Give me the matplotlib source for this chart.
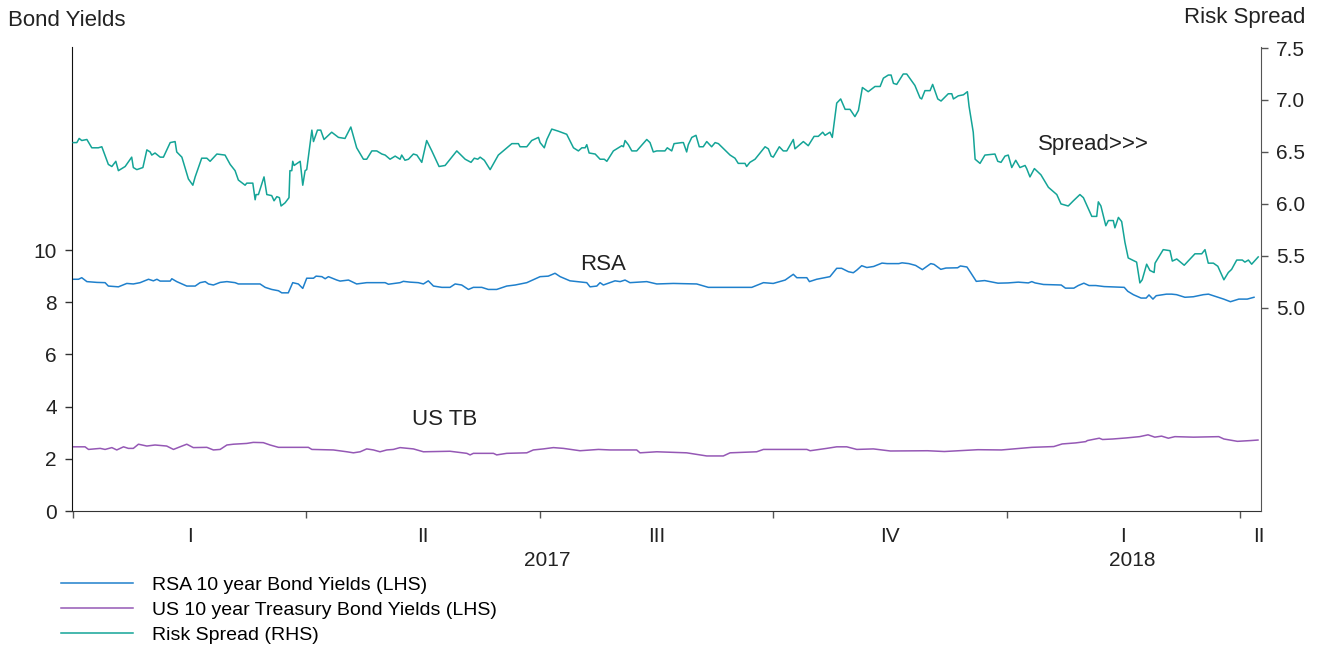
import matplotlib
matplotlib.use("Agg")
import matplotlib.pyplot as plt
import matplotlib.transforms as mtransforms
import numpy as np

plt.rcParams['font.family'] = ['Liberation Sans', 'DejaVu Sans']

# x positions are in quarters from 1 Jan 2017 (0 = start of 2017 Q1)
rsa_q = [0.0, 0.023, 0.037, 0.059, 0.102, 0.137, 0.151, 0.194, 0.230, 0.258, 0.287, 0.323,
         0.344, 0.359, 0.373, 0.416, 0.423, 0.444, 0.487, 0.523, 0.544, 0.566, 0.580, 0.601,
         0.630, 0.659, 0.694, 0.708, 0.801, 0.823, 0.851, 0.880, 0.894, 0.922, 0.941, 0.965,
         0.984, 1.001, 1.030, 1.041, 1.066, 1.080, 1.094, 1.130, 1.144, 1.180, 1.215, 1.258,
         1.337, 1.351, 1.401, 1.415, 1.444, 1.479, 1.501, 1.522, 1.544, 1.580, 1.615, 1.637,
         1.665, 1.694, 1.715, 1.751, 1.779, 1.815, 1.858, 1.894, 1.944, 2.001, 2.036, 2.065,
         2.087, 2.129, 2.201, 2.215, 2.244, 2.258, 2.272, 2.322, 2.344, 2.365, 2.386, 2.458,
         2.501, 2.572, 2.672, 2.722, 2.908, 2.958, 3.000, 3.051, 3.086, 3.101, 3.144, 3.155,
         3.186, 3.243, 3.272, 3.293, 3.322, 3.343, 3.358, 3.379, 3.401, 3.430, 3.466, 3.488,
         3.538, 3.552, 3.581, 3.610, 3.639, 3.675, 3.689, 3.718, 3.740, 3.790, 3.802, 3.830,
         3.847, 3.870, 3.906, 3.963, 4.006, 4.050, 4.093, 4.108, 4.122, 4.158, 4.234, 4.252,
         4.288, 4.307, 4.331, 4.353, 4.382, 4.418, 4.504, 4.519, 4.543, 4.576, 4.598, 4.610,
         4.627, 4.641, 4.685, 4.707, 4.728, 4.764, 4.800, 4.843, 4.865, 4.886, 4.930, 4.959,
         4.973, 4.995, 5.031, 5.060]
rsa = [8.88, 8.88, 8.94, 8.79, 8.76, 8.75, 8.62, 8.59, 8.72, 8.70, 8.75, 8.88,
       8.82, 8.88, 8.81, 8.81, 8.90, 8.79, 8.62, 8.62, 8.75, 8.79, 8.70, 8.66,
       8.76, 8.79, 8.75, 8.70, 8.70, 8.57, 8.49, 8.44, 8.36, 8.36, 8.75, 8.70,
       8.53, 8.92, 8.92, 9.00, 8.98, 8.90, 8.98, 8.85, 8.81, 8.85, 8.70, 8.75,
       8.75, 8.69, 8.75, 8.80, 8.77, 8.75, 8.70, 8.82, 8.62, 8.57, 8.57, 8.70,
       8.66, 8.49, 8.57, 8.57, 8.49, 8.49, 8.62, 8.66, 8.75, 8.98, 9.00, 9.11,
       8.98, 8.82, 8.75, 8.59, 8.62, 8.75, 8.66, 8.82, 8.79, 8.85, 8.75, 8.79,
       8.70, 8.72, 8.70, 8.57, 8.57, 8.75, 8.72, 8.85, 9.07, 8.94, 8.94, 8.79,
       8.88, 8.98, 9.30, 9.30, 9.17, 9.13, 9.23, 9.40, 9.33, 9.37, 9.50, 9.48,
       9.48, 9.51, 9.48, 9.41, 9.25, 9.48, 9.45, 9.26, 9.31, 9.32, 9.39, 9.35,
       9.12, 8.80, 8.83, 8.73, 8.74, 8.77, 8.74, 8.79, 8.74, 8.68, 8.66, 8.54,
       8.54, 8.64, 8.73, 8.64, 8.64, 8.60, 8.57, 8.42, 8.29, 8.16, 8.16, 8.28,
       8.12, 8.25, 8.31, 8.31, 8.29, 8.19, 8.21, 8.29, 8.31, 8.25, 8.12, 8.02,
       8.06, 8.12, 8.12, 8.19]

us_q = [0.0, 0.051, 0.066, 0.116, 0.137, 0.166, 0.187, 0.216, 0.237, 0.258, 0.280, 0.316,
        0.351, 0.401, 0.430, 0.458, 0.487, 0.515, 0.573, 0.601, 0.630, 0.659, 0.687, 0.744,
        0.772, 0.815, 0.844, 0.880, 1.008, 1.023, 1.115, 1.173, 1.201, 1.230, 1.258, 1.287,
        1.315, 1.344, 1.372, 1.401, 1.458, 1.501, 1.615, 1.687, 1.701, 1.715, 1.801, 1.815,
        1.858, 1.944, 1.972, 2.015, 2.058, 2.101, 2.172, 2.251, 2.301, 2.415, 2.429, 2.501,
        2.629, 2.715, 2.786, 2.815, 2.929, 2.958, 3.144, 3.158, 3.229, 3.272, 3.315, 3.358,
        3.429, 3.502, 3.661, 3.733, 3.877, 3.978, 4.108, 4.202, 4.238, 4.296, 4.339, 4.346,
        4.397, 4.411, 4.455, 4.512, 4.570, 4.606, 4.635, 4.664, 4.693, 4.721, 4.801, 4.909,
        4.931, 4.989, 5.046, 5.077]
us = [2.46, 2.46, 2.36, 2.40, 2.36, 2.43, 2.34, 2.46, 2.40, 2.40, 2.56, 2.49,
      2.53, 2.49, 2.36, 2.46, 2.56, 2.43, 2.44, 2.34, 2.36, 2.53, 2.56, 2.59,
      2.63, 2.62, 2.53, 2.44, 2.44, 2.36, 2.34, 2.27, 2.23, 2.27, 2.38, 2.34,
      2.27, 2.34, 2.36, 2.43, 2.38, 2.27, 2.29, 2.21, 2.15, 2.21, 2.21, 2.15,
      2.21, 2.23, 2.34, 2.38, 2.43, 2.40, 2.31, 2.36, 2.34, 2.34, 2.23, 2.27,
      2.23, 2.11, 2.11, 2.23, 2.27, 2.36, 2.36, 2.31, 2.40, 2.46, 2.46, 2.36,
      2.38, 2.30, 2.31, 2.28, 2.35, 2.34, 2.44, 2.47, 2.57, 2.61, 2.66, 2.70,
      2.79, 2.74, 2.76, 2.80, 2.85, 2.92, 2.83, 2.87, 2.79, 2.85, 2.83, 2.85,
      2.76, 2.67, 2.70, 2.72]

spr_q = [0.0, 0.016, 0.026, 0.037, 0.059, 0.080, 0.108, 0.123, 0.151, 0.166, 0.183, 0.194,
         0.223, 0.251, 0.258, 0.273, 0.299, 0.316, 0.330, 0.337, 0.351, 0.373, 0.387, 0.416,
         0.437, 0.444, 0.466, 0.494, 0.513, 0.523, 0.551, 0.573, 0.587, 0.616, 0.651, 0.673,
         0.694, 0.708, 0.737, 0.744, 0.770, 0.780, 0.784, 0.794, 0.818, 0.830, 0.851, 0.861,
         0.873, 0.884, 0.891, 0.908, 0.925, 0.929, 0.937, 0.941, 0.947, 0.973, 0.984, 0.994,
         1.001, 1.023, 1.030, 1.047, 1.061, 1.075, 1.108, 1.137, 1.165, 1.190, 1.215, 1.244,
         1.258, 1.280, 1.301, 1.323, 1.337, 1.358, 1.380, 1.401, 1.408, 1.422, 1.437, 1.458,
         1.473, 1.494, 1.515, 1.537, 1.558, 1.568, 1.594, 1.644, 1.680, 1.705, 1.719, 1.734,
         1.744, 1.762, 1.787, 1.822, 1.880, 1.908, 1.915, 1.944, 1.965, 1.994, 2.001, 2.019,
         2.030, 2.051, 2.079, 2.115, 2.144, 2.165, 2.180, 2.194, 2.201, 2.211, 2.237, 2.258,
         2.276, 2.287, 2.315, 2.351, 2.358, 2.365, 2.379, 2.394, 2.415, 2.458, 2.472, 2.486,
         2.501, 2.536, 2.546, 2.565, 2.575, 2.608, 2.615, 2.629, 2.636, 2.651, 2.669, 2.683,
         2.700, 2.715, 2.736, 2.751, 2.765, 2.815, 2.836, 2.850, 2.879, 2.886, 2.900, 2.922,
         2.965, 2.979, 2.991, 3.000, 3.026, 3.043, 3.058, 3.086, 3.093, 3.129, 3.150, 3.175,
         3.193, 3.212, 3.222, 3.243, 3.253, 3.272, 3.289, 3.308, 3.329, 3.350, 3.365, 3.382,
         3.407, 3.436, 3.458, 3.472, 3.493, 3.505, 3.515, 3.529, 3.557, 3.572, 3.607, 3.629,
         3.636, 3.650, 3.672, 3.683, 3.705, 3.719, 3.750, 3.765, 3.772, 3.793, 3.815, 3.832,
         3.839, 3.857, 3.865, 3.886, 3.907, 3.950, 3.962, 3.976, 3.993, 4.007, 4.022, 4.039,
         4.057, 4.079, 4.086, 4.100, 4.119, 4.147, 4.179, 4.215, 4.233, 4.264, 4.286, 4.314,
         4.329, 4.365, 4.386, 4.393, 4.404, 4.425, 4.436, 4.457, 4.464, 4.479, 4.493, 4.507,
         4.521, 4.557, 4.571, 4.581, 4.600, 4.614, 4.632, 4.636, 4.671, 4.700, 4.710, 4.729,
         4.761, 4.807, 4.836, 4.850, 4.864, 4.886, 4.905, 4.931, 4.950, 4.964, 4.986, 5.010,
         5.021, 5.036, 5.050, 5.078]
spr = [6.59, 6.59, 6.63, 6.61, 6.62, 6.54, 6.54, 6.55, 6.38, 6.36, 6.41, 6.32,
       6.36, 6.45, 6.35, 6.33, 6.35, 6.52, 6.50, 6.47, 6.49, 6.45, 6.45, 6.59,
       6.60, 6.50, 6.45, 6.24, 6.18, 6.26, 6.44, 6.44, 6.41, 6.48, 6.47, 6.38,
       6.32, 6.23, 6.18, 6.20, 6.20, 6.04, 6.09, 6.09, 6.26, 6.09, 6.08, 6.03,
       6.07, 6.06, 5.98, 6.01, 6.06, 6.32, 6.32, 6.41, 6.37, 6.41, 6.18, 6.32,
       6.33, 6.71, 6.60, 6.71, 6.71, 6.62, 6.69, 6.64, 6.63, 6.74, 6.54, 6.43,
       6.43, 6.51, 6.51, 6.48, 6.47, 6.43, 6.46, 6.43, 6.47, 6.42, 6.43, 6.48,
       6.47, 6.40, 6.61, 6.51, 6.41, 6.36, 6.37, 6.51, 6.43, 6.40, 6.44, 6.43,
       6.45, 6.42, 6.33, 6.47, 6.58, 6.58, 6.55, 6.55, 6.61, 6.64, 6.59, 6.54,
       6.62, 6.72, 6.70, 6.67, 6.54, 6.51, 6.54, 6.54, 6.57, 6.49, 6.48, 6.43,
       6.43, 6.41, 6.51, 6.56, 6.55, 6.61, 6.57, 6.51, 6.51, 6.62, 6.59, 6.50,
       6.51, 6.51, 6.54, 6.51, 6.58, 6.59, 6.59, 6.50, 6.57, 6.64, 6.66, 6.55,
       6.55, 6.60, 6.55, 6.59, 6.58, 6.47, 6.44, 6.39, 6.39, 6.36, 6.40, 6.43,
       6.55, 6.53, 6.46, 6.45, 6.55, 6.51, 6.51, 6.62, 6.53, 6.60, 6.56, 6.65,
       6.65, 6.69, 6.66, 6.69, 6.64, 6.97, 7.01, 6.91, 6.91, 6.84, 6.90, 7.12,
       7.08, 7.13, 7.13, 7.21, 7.24, 7.24, 7.16, 7.15, 7.25, 7.25, 7.14, 7.02,
       7.01, 7.09, 7.09, 7.15, 7.01, 6.99, 7.06, 7.06, 7.01, 7.04, 7.05, 7.08,
       6.94, 6.69, 6.43, 6.39, 6.47, 6.48, 6.41, 6.40, 6.46, 6.47, 6.35, 6.42,
       6.35, 6.37, 6.34, 6.26, 6.34, 6.28, 6.16, 6.09, 6.00, 5.98, 6.03, 6.09,
       6.06, 5.88, 5.88, 6.02, 5.98, 5.79, 5.84, 5.84, 5.77, 5.87, 5.83, 5.63,
       5.48, 5.44, 5.24, 5.27, 5.42, 5.36, 5.34, 5.43, 5.56, 5.55, 5.45, 5.47,
       5.41, 5.52, 5.52, 5.56, 5.43, 5.43, 5.40, 5.27, 5.34, 5.37, 5.46, 5.46,
       5.44, 5.46, 5.42, 5.49]

quarter_labels = ['I', 'II', 'III', 'IV', 'I', 'II']
quarter_mid = [0.5, 1.5, 2.5, 3.5, 4.5, 5.08]
years = ['2017', '2018']
year_mid = [2.03, 4.54]

c_rsa = '#1f80cc'
c_us = '#9558b5'
c_spr = '#14a497'

fig = plt.figure(figsize=(13.25, 6.49), dpi=100)
ax = fig.add_axes([0.0543, 0.2126, 0.8974, 0.7150])
ax2 = ax.twinx()

ax.plot(rsa_q, rsa, color=c_rsa, lw=1.1, label='RSA 10 year Bond Yields (LHS)')
ax.plot(us_q, us, color=c_us, lw=1.1, label='US 10 year Treasury Bond Yields (LHS)')
ax2.plot(spr_q, spr, color=c_spr, lw=1.1, label='Risk Spread (RHS)')

ax.set_xlim(-0.005, 5.09)
ax.set_ylim(0, 17.78)
ax2.set_ylim(3.045, 7.51)

ax.set_yticks([0, 2, 4, 6, 8, 10])
ax2.set_yticks([5.0, 5.5, 6.0, 6.5, 7.0, 7.5])
ax2.set_yticklabels(['%.1f' % v for v in [5.0, 5.5, 6.0, 6.5, 7.0, 7.5]])
ax.set_xticks([0, 1, 2, 3, 4, 5])
ax.set_xticklabels([])

for a in (ax, ax2):
    a.spines['top'].set_visible(False)
ax.spines['right'].set_visible(False)
ax2.spines['left'].set_visible(False)
ax2.spines['bottom'].set_visible(False)
ax2.spines['right'].set_color('#555555')
ax.spines['left'].set_color('#111111')
ax.spines['bottom'].set_color('#333333')
ax.tick_params(axis='y', direction='out', length=5, width=1, labelsize=15, pad=6,
               colors='#333333', labelcolor='#222222')
ax.tick_params(axis='x', direction='out', length=5, width=1, colors='#555555')
ax2.tick_params(axis='y', direction='out', length=5, width=1, labelsize=15, pad=6,
                colors='#555555', labelcolor='#222222')

# quarter and year labels below the axis
trans = mtransforms.blended_transform_factory(ax.transData, ax.transAxes)
for lab, q in zip(quarter_labels, quarter_mid):
    ax.text(q, -0.054, lab, transform=trans, ha='center', va='center', fontsize=15,
            color='#222222')
for lab, q in zip(years, year_mid):
    ax.text(q, -0.106, lab, transform=trans, ha='center', va='center', fontsize=15,
            color='#222222')

# in-chart series labels
ax.text(2.27, 9.46, 'RSA', ha='center', va='center', fontsize=16, color='#222222')
ax.text(1.59, 3.52, 'US TB', ha='center', va='center', fontsize=16, color='#222222')
ax2.text(4.37, 6.57, 'Spread>>>', ha='center', va='center', fontsize=16, color='#222222')

fig.text(8 / 1325, 1 - 21 / 649, 'Bond Yields', ha='left', va='center', fontsize=16,
         color='#222222')
fig.text(1305 / 1325, 1 - 17 / 649, 'Risk Spread', ha='right', va='center', fontsize=16,
         color='#222222')

h1, l1 = ax.get_legend_handles_labels()
h2, l2 = ax2.get_legend_handles_labels()
fig.legend(h1 + h2, l1 + l2, loc='upper left', bbox_to_anchor=(0.040, 0.1235),
           frameon=False, handlelength=3.7, handletextpad=1.0,
           labelspacing=0.38, borderaxespad=0, prop={'size': 14})

fig.savefig('out.png', dpi=100)
